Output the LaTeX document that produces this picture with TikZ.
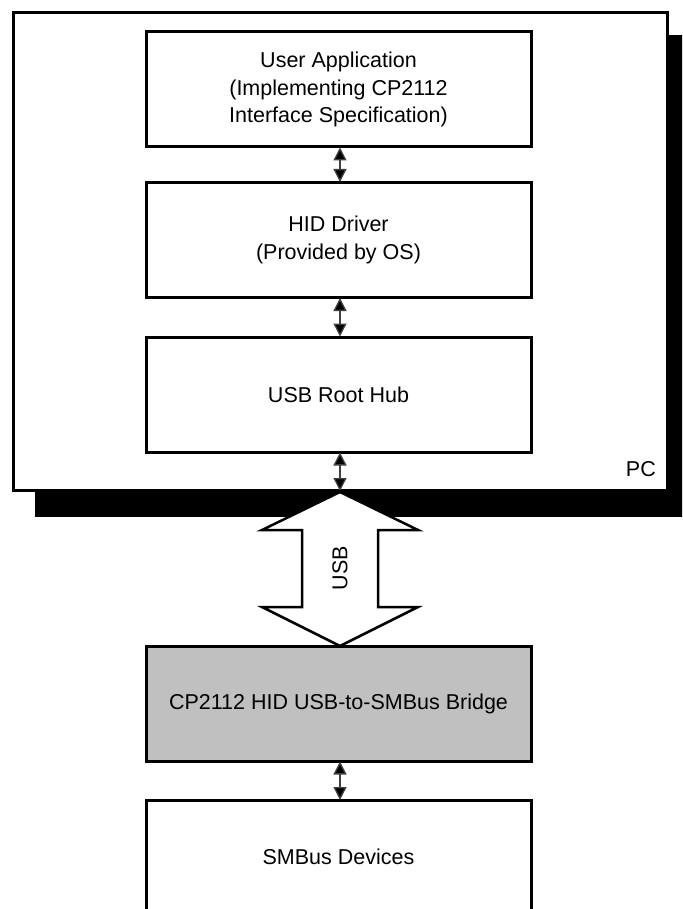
\documentclass[tikz,border=0pt]{standalone}
\usepackage{fontspec}
\setmainfont{Liberation Sans}
\usetikzlibrary{arrows.meta}
\begin{document}
\begin{tikzpicture}[x=1pt,y=-1pt,
  blk/.style={draw=black,line width=3pt,fill=white,minimum width=385pt,minimum height=115pt,align=center,inner sep=0pt,font=\fontsize{21.5}{27.5}\selectfont},
  link/.style={line width=1.3pt,draw=black!75,{Triangle[width=13pt,length=13pt,fill=black]}-{Triangle[width=13pt,length=13pt,fill=black]},shorten <=-1pt,shorten >=-1pt},
  lbl/.style={font=\fontsize{21.5}{27.5}\selectfont,inner sep=0pt}]
\clip (0,0) rectangle (682,909);
\fill[white] (0,0) rectangle (682,909);
% PC box with shadow
\fill[black] (35,35) rectangle (695,517);
\draw[line width=3pt,fill=white] (13,13) rectangle (667,490);
\node[lbl,anchor=east] (pc) at (656,469) {PC};
% blocks
\node[blk] (app) at (338.5,89.5) {User Application\\(Implementing CP2112\\Interface Specification)};
\node[blk] (hid) at (338.5,240) {HID Driver\\(Provided by OS)};
\node[blk] (hub) at (338.5,394.5) {USB Root Hub};
\node[blk,fill={rgb,255:red,192;green,192;blue,192}] (cp) at (338.5,703.5) {CP2112 HID USB-to-SMBus Bridge};
\node[blk,minimum height=150pt,anchor=north] (smb) at (338.5,799) {};
\node[lbl] (smbt) at (338.5,857) {SMBus Devices};
\coordinate (pcb) at (340,490);
% links
\draw[link] (app.south -| 340,0) -- (hid.north -| 340,0);
\draw[link] (hid.south -| 340,0) -- (hub.north -| 340,0);
\draw[link] (hub.south -| 340,0) -- (pcb);
\draw[link] (cp.south -| 340,0) -- (smb.north -| 340,0);
% big USB arrow
\draw[line width=2.5pt,fill=white,line join=miter]
  (340,492) -- (418,530) -- (378,530) -- (378,607) -- (418,607) -- (340,646)
  -- (262,607) -- (302,607) -- (302,530) -- (262,530) -- cycle;
\node[lbl,rotate=90] (usb) at (340,568) {USB};
\end{tikzpicture}
\end{document}
